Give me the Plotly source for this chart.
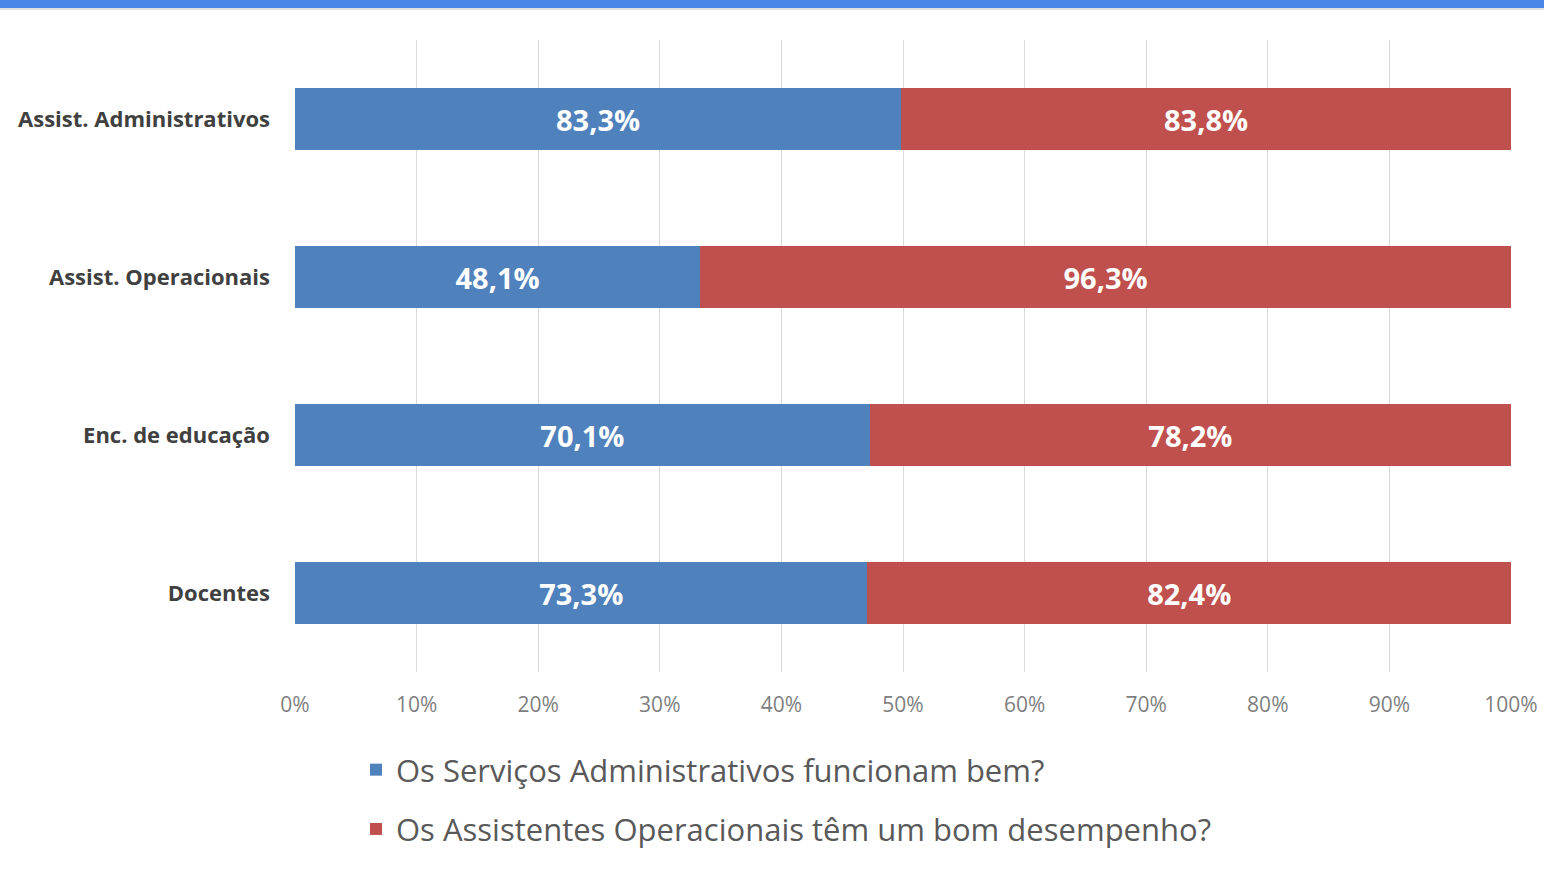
import plotly.graph_objects as go

categories = ["Docentes", "Enc. de educação", "Assist. Operacionais", "Assist. Administrativos"]
serie_admin = [73.3, 70.1, 48.1, 83.3]
serie_oper = [82.4, 78.2, 96.3, 83.8]
series_names = ["Os Serviços Administrativos funcionam bem?",
                "Os Assistentes Operacionais têm um bom desempenho?"]
tick_vals = [0, 10, 20, 30, 40, 50, 60, 70, 80, 90, 100]
tick_text = [f"{v}%" for v in tick_vals]


def fmt(v):
    return f"{v:.1f}".replace(".", ",") + "%"


fig = go.Figure()
fig.add_trace(go.Bar(
    y=categories, x=serie_admin, orientation="h", name=series_names[0],
    marker=dict(color="#4f81bd", line=dict(width=0)),
    text=[fmt(v) for v in serie_admin], textposition="inside",
    insidetextanchor="middle",
    textfont=dict(color="white", size=29, family="Open Sans", weight="bold"),
    legendgroup="a",
))
fig.add_trace(go.Bar(
    y=categories, x=serie_oper, orientation="h", name=series_names[1],
    marker=dict(color="#c0504d", line=dict(width=0)),
    text=[fmt(v) for v in serie_oper], textposition="inside",
    insidetextanchor="middle",
    textfont=dict(color="white", size=29, family="Open Sans", weight="bold"),
    legendgroup="b",
))

L, R, T, B = 295, 33, 40, 197
W, H = 1544, 869
pw = W - L - R
ph = H - T - B

fig.update_layout(
    width=W, height=H,
    barmode="stack", barnorm="percent", bargap=0.61,
    margin=dict(l=L, r=R, t=T, b=B, autoexpand=False),
    paper_bgcolor="white", plot_bgcolor="white",
    font=dict(family="Open Sans", color="#404040"),
    uniformtext=dict(minsize=10, mode="show"),
    xaxis=dict(range=[0, 100], tickvals=tick_vals, ticktext=tick_text,
               showgrid=True, gridcolor="#d9d9d9", gridwidth=1,
               zeroline=False, showline=False, automargin=False,
               tickfont=dict(size=21, color="#7f7f7f"), ticklabelstandoff=18,
               fixedrange=True),
    yaxis=dict(showgrid=False, zeroline=False, showline=False, automargin=False,
               tickfont=dict(size=22, color="#404040", weight="bold"),
               ticklabelstandoff=24),
    legend=dict(orientation="v", x=(356 - L) / pw, xanchor="left",
                y=(H - B - 743) / ph, yanchor="top",
                font=dict(size=31, color="#595959"), tracegroupgap=16,
                bgcolor="rgba(0,0,0,0)"),
    shapes=[
        dict(type="rect", xref="paper", yref="paper",
             x0=-L / pw, x1=(W - L) / pw,
             y0=1 + (T - 8) / ph, y1=1 + T / ph,
             fillcolor="#4a86e8", line=dict(width=0), layer="above"),
        dict(type="line", xref="paper", yref="paper",
             x0=-L / pw, x1=(W - L) / pw,
             y0=1 + (T - 9) / ph, y1=1 + (T - 9) / ph,
             line=dict(color="#e0e0e0", width=2), layer="above"),
    ],
)

fig.write_html("out.html", config={"displayModeBar": False},
               post_script="document.body.style.margin='0px';document.body.style.padding='0px';")
